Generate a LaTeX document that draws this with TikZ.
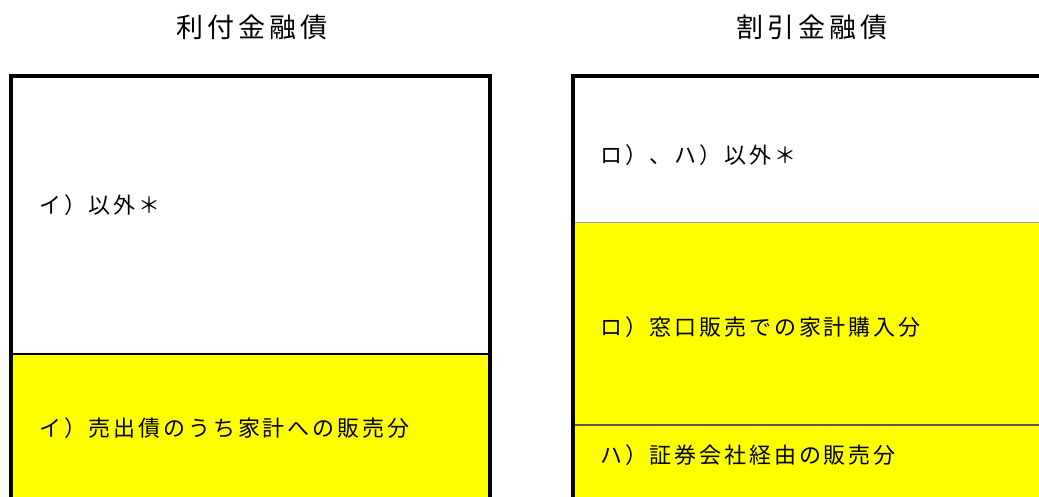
\documentclass[tikz,border=0pt]{standalone}
\usepackage{fontspec}
\newfontfamily\jptitle[LetterSpace=14]{Noto Sans CJK JP}
\newfontfamily\jpbody[LetterSpace=13]{Noto Sans CJK JP}
\definecolor{hiYellow}{RGB}{255,255,0}

\begin{document}
\begin{tikzpicture}[x=1pt, y=-1pt, every node/.style={inner sep=0pt}]
    \tikzstyle{frameLine} = [draw=black, line width=4pt]
    \tikzstyle{splitLine} = [draw=black, line width=1.6pt]
    \tikzstyle{thinLine} = [draw=black!35, line width=1pt]
    \tikzstyle{dashLine} = [draw=black!65, line width=1.5pt]
    \tikzstyle{titleStyle} = [font=\jptitle\fontsize{27}{32}\selectfont]
    \tikzstyle{labelStyle} = [anchor=west, font=\jpbody\fontsize{22}{26}\selectfont]
    \useasboundingbox (0,0) rectangle (1039,496);
    % corners of the two columns
    \coordinate (lb) at (11,500);
    \coordinate (lt) at (11,76);
    \coordinate (rt) at (490,76);
    \coordinate (rb) at (490,500);
    \coordinate (kb) at (573,500);
    \coordinate (kt) at (573,76);
    \coordinate (ke) at (1045,76);
    % yellow parts
    \fill[hiYellow] (11,354) rectangle (rb);
    \fill[hiYellow] (573,222) rectangle (1045,500);
    % dividers
    \coordinate (d1) at (11,354);
    \coordinate (d2) at (490,354);
    \coordinate (d3) at (573,222);
    \coordinate (d4) at (1045,222);
    \coordinate (d5) at (573,425);
    \coordinate (d6) at (1045,425);
    \path[splitLine] (d1) -- (d2);
    \path[thinLine] (d3) -- (d4);
    \path[dashLine] (d5) -- (d6);
    % frames
    \path[frameLine] (lb) -- (lt) -- (rt) -- (rb);
    \path[frameLine] (kb) -- (kt) -- (ke);
    % titles
    \node[titleStyle] (riTitle) at (252,27) {利付金融債};
    \node[titleStyle] (waTitle) at (812,27) {割引金融債};
    % labels
    \node[labelStyle] (i1) at (39,205) {イ）以外＊};
    \node[labelStyle] (i2) at (39,428) {イ）売出債のうち家計への販売分};
    \node[labelStyle] (r1) at (600,155) {ロ）、ハ）以外＊};
    \node[labelStyle] (r2) at (600,327) {ロ）窓口販売での家計購入分};
    \node[labelStyle] (h1) at (600,455) {ハ）証券会社経由の販売分};
\end{tikzpicture}
\end{document}
